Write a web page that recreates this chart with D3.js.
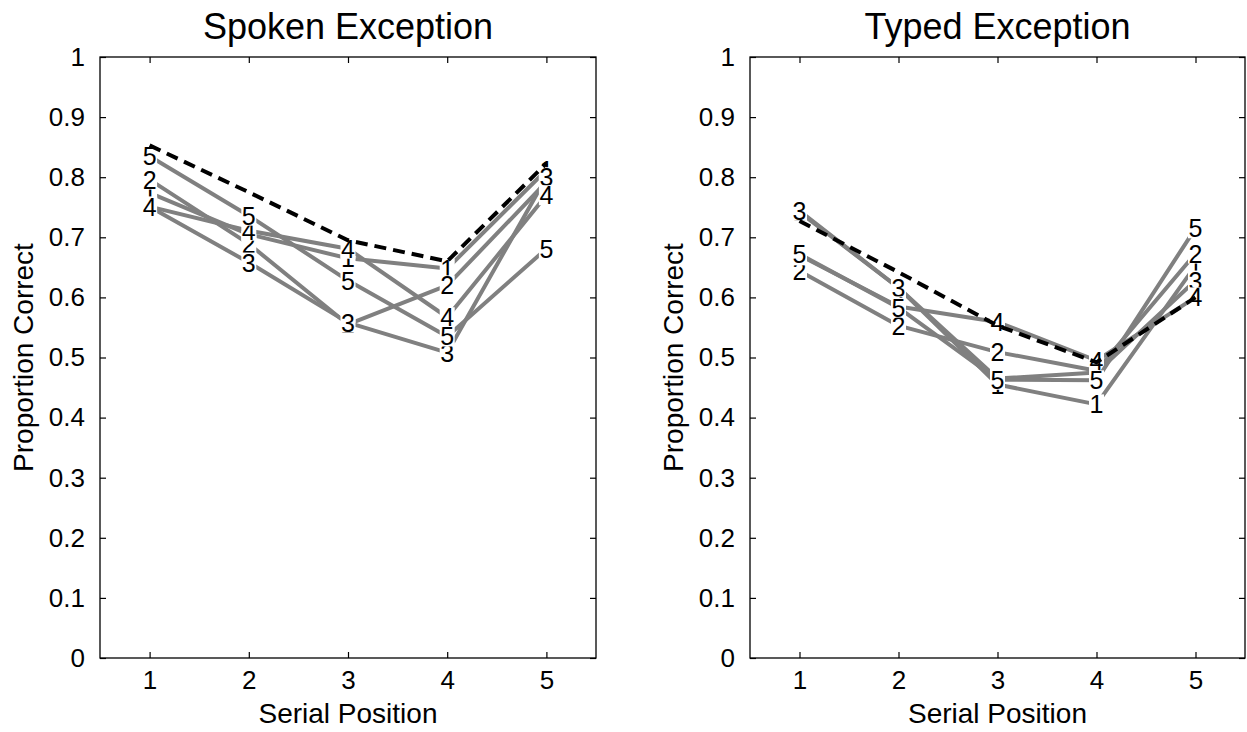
<!DOCTYPE html>
<html>
<head>
<meta charset="utf-8">
<script src="https://cdn.jsdelivr.net/npm/d3@7"></script>
<style>
  html, body { margin: 0; padding: 0; background: #fff; }
  svg { display: block; }
  text { font-family: "Liberation Sans", Arial, Helvetica, sans-serif; }
</style>
</head>
<body>
<svg id="chart" width="1247" height="732"></svg>
<script>
// Serial positions and y tick values
const positions = [1, 2, 3, 4, 5];
const yTicks = [0, 0.1, 0.2, 0.3, 0.4, 0.5, 0.6, 0.7, 0.8, 0.9, 1];
const yTickLabels = ["0", "0.1", "0.2", "0.3", "0.4", "0.5", "0.6", "0.7", "0.8", "0.9", "1"];
const seriesNames = ["1", "2", "3", "4", "5"];

// Spoken exception: proportion correct per series (1..5) and reference curve
const spoken1 = [0.774, 0.705, 0.665, 0.648, 0.812];
const spoken2 = [0.796, 0.689, 0.555, 0.620, 0.792];
const spoken3 = [0.751, 0.658, 0.558, 0.508, 0.800];
const spoken4 = [0.751, 0.711, 0.681, 0.567, 0.770];
const spoken5 = [0.835, 0.736, 0.628, 0.535, 0.681];
const spokenRef = [0.853, 0.775, 0.695, 0.660, 0.823];

// Typed exception
const typed1 = [0.742, 0.616, 0.455, 0.422, 0.653];
const typed2 = [0.644, 0.553, 0.509, 0.478, 0.673];
const typed3 = [0.744, 0.616, 0.465, 0.475, 0.628];
const typed4 = [0.670, 0.585, 0.559, 0.495, 0.600];
const typed5 = [0.672, 0.583, 0.463, 0.462, 0.715];
const typedRef = [0.727, 0.642, 0.553, 0.492, 0.600];

const panels = [
  { title: "Spoken Exception", series: [spoken1, spoken2, spoken3, spoken4, spoken5], ref: spokenRef, x0: 100, x1: 596 },
  { title: "Typed Exception", series: [typed1, typed2, typed3, typed4, typed5], ref: typedRef, x0: 750, x1: 1245 }
];

const svg = d3.select("#chart");
const yTop = 57, yBottom = 658;
const tickLen = 6;
const markFont = 25;

panels.forEach(p => {
  const x = d3.scaleLinear().domain([0.5, 5.5]).range([p.x0, p.x1]);
  const y = d3.scaleLinear().domain([0, 1]).range([yBottom, yTop]);
  const g = svg.append("g");

  // Inward ticks on all four sides
  const fmt = (d) => yTickLabels[yTicks.indexOf(d)];
  const axL = g.append("g").attr("transform", `translate(${p.x0},0)`)
    .call(d3.axisLeft(y).tickValues(yTicks).tickFormat(fmt).tickSizeInner(-tickLen).tickSizeOuter(0).tickPadding(15));
  const axR = g.append("g").attr("transform", `translate(${p.x1},0)`)
    .call(d3.axisRight(y).tickValues(yTicks).tickFormat("").tickSizeInner(-tickLen).tickSizeOuter(0));
  const axB = g.append("g").attr("transform", `translate(0,${yBottom})`)
    .call(d3.axisBottom(x).tickValues(positions).tickFormat(d3.format("d")).tickSizeInner(-tickLen).tickSizeOuter(0).tickPadding(13));
  const axT = g.append("g").attr("transform", `translate(0,${yTop})`)
    .call(d3.axisTop(x).tickValues(positions).tickFormat("").tickSizeInner(-tickLen).tickSizeOuter(0));
  [axL, axR, axB, axT].forEach(a => {
    a.select(".domain").remove();
    a.selectAll(".tick line").attr("stroke", "#000").attr("stroke-width", 1.2);
    a.selectAll(".tick text").attr("fill", "#000").attr("font-size", 26);
  });

  // Box
  g.append("rect").attr("x", p.x0).attr("y", yTop)
    .attr("width", p.x1 - p.x0).attr("height", yBottom - yTop)
    .attr("fill", "none").attr("stroke", "#000").attr("stroke-width", 1.3);

  const line = d3.line().x((d, i) => x(positions[i])).y(d => y(d));

  // Each series: its line, then its number markers on white boxes
  const bw = markFont * 0.6, bh = markFont * 0.8;
  p.series.forEach((s, k) => {
    g.append("path").datum(s).attr("d", line)
      .attr("fill", "none").attr("stroke", "#808080").attr("stroke-width", 4)
      .attr("stroke-linejoin", "round");
    const marks = g.selectAll(null).data(s).enter().append("g")
      .attr("transform", (d, i) => `translate(${x(positions[i])},${y(d)})`);
    marks.append("rect")
      .attr("x", -bw / 2).attr("y", -bh / 2).attr("width", bw).attr("height", bh)
      .attr("fill", "#fff");
    marks.append("text")
      .attr("x", 0).attr("y", markFont * 0.36)
      .attr("text-anchor", "middle")
      .attr("font-size", markFont)
      .attr("fill", "#000")
      .text(seriesNames[k]);
  });

  // Reference curve on top
  g.append("path").datum(p.ref).attr("d", line)
    .attr("fill", "none").attr("stroke", "#000").attr("stroke-width", 4)
    .attr("stroke-dasharray", "12,7");

  // Title and axis labels
  g.append("text").attr("x", (p.x0 + p.x1) / 2).attr("y", 39)
    .attr("text-anchor", "middle").attr("font-size", 36).attr("fill", "#000").text(p.title);
  g.append("text").attr("x", (p.x0 + p.x1) / 2).attr("y", 723)
    .attr("text-anchor", "middle").attr("font-size", 28).attr("fill", "#000").text("Serial Position");
  g.append("text")
    .attr("transform", `translate(${p.x0 - 67},${(yTop + yBottom) / 2}) rotate(-90)`)
    .attr("text-anchor", "middle").attr("font-size", 28).attr("fill", "#000").text("Proportion Correct");
});
</script>
</body>
</html>
